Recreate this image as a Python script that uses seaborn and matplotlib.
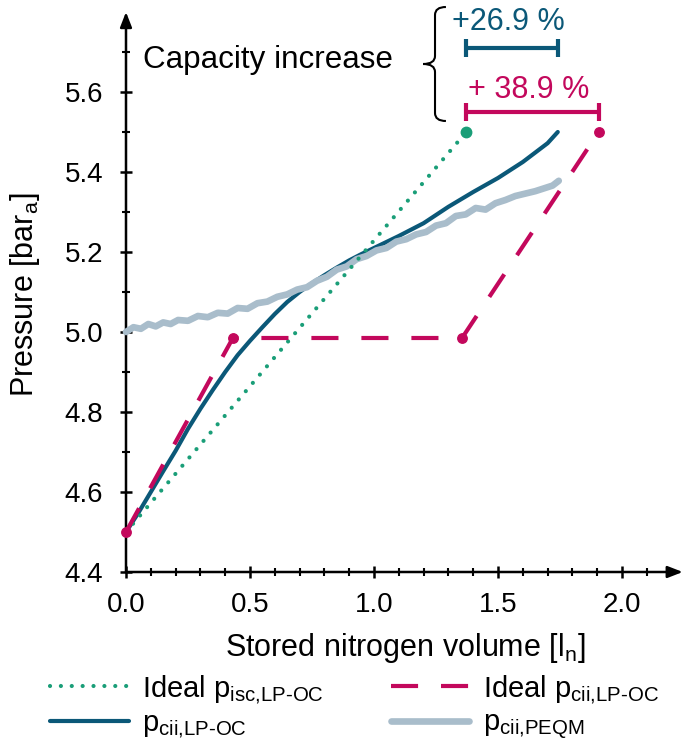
import numpy as np
import pandas as pd
import matplotlib
matplotlib.use("Agg")
import matplotlib.pyplot as plt
from matplotlib.path import Path
from matplotlib.patches import PathPatch
import seaborn as sns

# ---- data -------------------------------------------------------------
# Ideal isochoric pressure rise (straight line)
isc_x = [0.0, 1.372]
isc_p = [4.50, 5.50]

# Ideal constant-pressure-interval profile
cii_x = [0.0, 0.431, 1.355, 1.906]
cii_p = [4.50, 4.985, 4.985, 5.50]

# Measured p_cii for LP-OC
lpoc_x = [0.00, 0.05, 0.10, 0.15, 0.20, 0.25, 0.30, 0.35, 0.40, 0.45,
          0.50, 0.55, 0.60, 0.65, 0.70, 0.75, 0.80, 0.85, 0.90, 0.95,
          1.00, 1.10, 1.20, 1.30, 1.40, 1.50, 1.60, 1.70, 1.741]
lpoc_p = [4.500, 4.548, 4.600, 4.652, 4.703, 4.758, 4.808, 4.855, 4.900, 4.942,
          4.978, 5.012, 5.045, 5.075, 5.100, 5.122, 5.142, 5.161, 5.179, 5.195,
          5.210, 5.240, 5.272, 5.313, 5.350, 5.385, 5.425, 5.472, 5.500]

# Measured p_cii for PEQM (noisy sensor trace)
peqm_x = [0.00, 0.03, 0.06, 0.09, 0.12, 0.15, 0.18, 0.21, 0.25, 0.29,
          0.33, 0.37, 0.41, 0.45, 0.49, 0.53, 0.57, 0.61, 0.65, 0.69,
          0.73, 0.77, 0.81, 0.85, 0.89, 0.93, 0.97, 1.01, 1.05, 1.09,
          1.13, 1.17, 1.21, 1.25, 1.29, 1.33, 1.37, 1.41, 1.45, 1.49,
          1.53, 1.57, 1.61, 1.65, 1.69, 1.72, 1.745]
peqm_p = [5.000, 5.012, 5.008, 5.020, 5.014, 5.024, 5.020, 5.030, 5.028, 5.040,
          5.037, 5.048, 5.046, 5.060, 5.058, 5.072, 5.076, 5.088, 5.094, 5.106,
          5.112, 5.128, 5.138, 5.156, 5.164, 5.182, 5.190, 5.204, 5.210, 5.226,
          5.232, 5.244, 5.250, 5.266, 5.272, 5.290, 5.294, 5.310, 5.306, 5.322,
          5.330, 5.340, 5.346, 5.352, 5.360, 5.366, 5.378]

# Capacity increase relative to the ideal isochoric case [%]
gain_lpoc = 26.9
gain_cii = 38.9

x_ticks = [0.0, 0.5, 1.0, 1.5, 2.0]
y_ticks = [4.4, 4.6, 4.8, 5.0, 5.2, 5.4, 5.6]

LBL_ISC = r"Ideal p$_\text{isc,LP-OC}$"
LBL_CII = r"Ideal p$_\text{cii,LP-OC}$"
LBL_LPOC = r"p$_\text{cii,LP-OC}$"
LBL_PEQM = r"p$_\text{cii,PEQM}$"

# ---- style ------------------------------------------------------------
sns.set_style("ticks")
plt.rcParams["font.family"] = ["Liberation Sans", "DejaVu Sans"]
plt.rcParams["mathtext.fontset"] = "custom"
plt.rcParams["mathtext.rm"] = "Liberation Sans"
plt.rcParams["mathtext.it"] = "Liberation Sans"
plt.rcParams["mathtext.default"] = "regular"
for key in ["text.color", "axes.labelcolor", "xtick.color", "ytick.color",
            "xtick.labelcolor", "ytick.labelcolor"]:
    plt.rcParams[key] = "black"

GREEN = "#1A9E78"
BLUE = "#0B5878"
MAGENTA = "#C3085C"
GRAY = "#A9BDCB"

fig = plt.figure(figsize=(6.84, 7.42), dpi=100)
ax = fig.add_axes([126 / 684, 170 / 742, 558 / 684, 572 / 742])
ax.set_xlim(0, 558 / 248)
ax.set_ylim(4.4, 4.4 + 572 / 400)

df_lpoc = pd.DataFrame({"x": lpoc_x, "p": lpoc_p})
df_peqm = pd.DataFrame({"x": peqm_x, "p": peqm_p})
df_isc = pd.DataFrame({"x": isc_x, "p": isc_p})
df_cii = pd.DataFrame({"x": cii_x, "p": cii_p})

sns.lineplot(data=df_lpoc, x="x", y="p", ax=ax, color=BLUE, lw=3.0,
             estimator=None, sort=False, zorder=3, clip_on=False,
             label=LBL_LPOC)
sns.lineplot(data=df_peqm, x="x", y="p", ax=ax, color=GRAY, lw=4.8,
             estimator=None, sort=False, zorder=4, clip_on=False,
             label=LBL_PEQM)
sns.lineplot(data=df_isc, x="x", y="p", ax=ax, color=GREEN, lw=3.0,
             linestyle=(0, (0.01, 2.6)), dash_capstyle="round",
             estimator=None, sort=False, zorder=5, clip_on=False,
             label=LBL_ISC)
sns.lineplot(data=df_cii, x="x", y="p", ax=ax, color=MAGENTA, lw=3.0,
             linestyle=(0, (6.5, 5.5)), estimator=None, sort=False,
             zorder=6, clip_on=False, label=LBL_CII)

# end points of the ideal profiles
ax.plot(isc_x[-1], isc_p[-1], "o", color=GREEN, ms=7.5, zorder=7, clip_on=False)
ax.plot(cii_x, cii_p, "o", color=MAGENTA, ms=6.8, lw=0, zorder=7, clip_on=False)

# ---- capacity-increase annotation ------------------------------------
base = isc_x[-1]
y_bar_lpoc = 5.71
y_bar_cii = 5.55
for gain, yb, col in [(gain_lpoc, y_bar_lpoc, BLUE), (gain_cii, y_bar_cii, MAGENTA)]:
    ax.plot([base, base * (1 + gain / 100)], [yb, yb], color=col, lw=3,
            marker="|", ms=13, mew=3, solid_capstyle="butt",
            zorder=7, clip_on=False)

ax.text(1.315, 5.775, f"+{gain_lpoc:.1f} %", color=BLUE, fontsize=22,
        ha="left", va="center", clip_on=False)
ax.text(1.379, 5.605, f"+ {gain_cii:.1f} %", color=MAGENTA, fontsize=22,
        ha="left", va="center", clip_on=False)
ax.text(0.069, 5.68, "Capacity increase", color="black", fontsize=22.6,
        ha="left", va="center")

# curly brace grouping the two bars
bx, bh, bt = 1.246, 1.29, 1.198
y_top, y_mid, y_bot = 5.8125, 5.67, 5.5275
verts = [(bh, y_top), (bx, y_top), (bx, y_top - 0.02),
         (bx, y_mid + 0.02),
         (bx, y_mid), (bt, y_mid),
         (bx, y_mid), (bx, y_mid - 0.02),
         (bx, y_bot + 0.02),
         (bx, y_bot), (bh, y_bot)]
codes = [Path.MOVETO, Path.CURVE3, Path.CURVE3,
         Path.LINETO,
         Path.CURVE3, Path.CURVE3,
         Path.CURVE3, Path.CURVE3,
         Path.LINETO,
         Path.CURVE3, Path.CURVE3]
ax.add_patch(PathPatch(Path(verts, codes), fill=False, lw=1.5,
                       edgecolor="black", clip_on=False, zorder=8))

# ---- axes with arrow heads -------------------------------------------
for s in ax.spines.values():
    s.set_visible(False)
arrow = dict(arrowstyle="-|>,head_length=0.9,head_width=0.35", lw=1.8,
             color="black", shrinkA=0, shrinkB=0)
ax.annotate("", xy=(0, 5.80), xytext=(0, 4.4), arrowprops=arrow,
            annotation_clip=False, zorder=2)
ax.annotate("", xy=(2.245, 4.4), xytext=(0, 4.4), arrowprops=arrow,
            annotation_clip=False, zorder=2)

ax.set_xticks(x_ticks)
ax.set_xticklabels([f"{v:.1f}" for v in x_ticks])
ax.set_yticks(y_ticks)
ax.set_yticklabels([f"{v:.1f}" for v in y_ticks])
ax.set_xticks(np.arange(0.1, 2.15, 0.1), minor=True)
ax.set_yticks(np.arange(4.5, 5.75, 0.1), minor=True)
ax.tick_params(which="major", direction="inout", length=9, width=1.8,
               labelsize=20, color="black", labelcolor="black")
ax.tick_params(which="minor", direction="inout", length=6, width=1.5,
               color="black")
ax.tick_params(axis="y", which="major", pad=12)
ax.tick_params(axis="x", which="major", pad=10)

ax.set_xlabel(r"Stored nitrogen volume [l$_n$]", fontsize=22)
ax.set_ylabel(r"Pressure [bar$_a$]", fontsize=22)
ax.xaxis.set_label_coords(0.5, -0.104)
ax.yaxis.set_label_coords(-0.15, 0.484)

# ---- legend -----------------------------------------------------------
handles, labels = ax.get_legend_handles_labels()
order = [labels.index(l) for l in [LBL_ISC, LBL_LPOC, LBL_CII, LBL_PEQM]]
ax.get_legend().remove()
fig.legend([handles[i] for i in order], [labels[i] for i in order],
           loc="upper left", bbox_to_anchor=(50 / 684, 0.093), ncol=2,
           frameon=False, fontsize=21, handlelength=2.7, handletextpad=0.45,
           columnspacing=2.3, labelspacing=0.12, borderpad=0,
           borderaxespad=0)

fig.savefig("out.png", dpi=100)
